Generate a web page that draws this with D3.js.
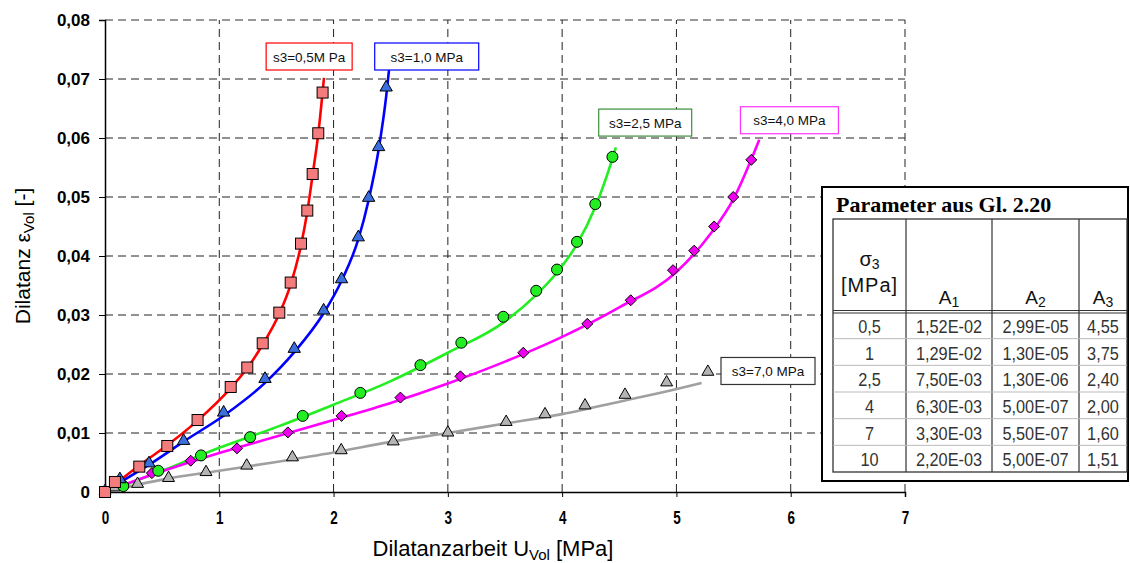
<!DOCTYPE html>
<html>
<head>
<meta charset="utf-8">
<script src="https://cdn.jsdelivr.net/npm/d3@7"></script>
<style>
  html, body { margin: 0; padding: 0; background: #fff; }
  svg { display: block; }
</style>
</head>
<body>
<svg id="chart" width="1130" height="563" font-family="Arial, 'Liberation Sans', sans-serif"></svg>
<script>
// ---------------- DATA ----------------
const xTicks = [0, 1, 2, 3, 4, 5, 6, 7];
const yTicks = [0, 0.01, 0.02, 0.03, 0.04, 0.05, 0.06, 0.07, 0.08];
const yTickLabels = ["0", "0,01", "0,02", "0,03", "0,04", "0,05", "0,06", "0,07", "0,08"];

// measured points [U_vol, eps_vol]
const pts05 = [[0,0],[0.087,0.0017],[0.30,0.0043],[0.545,0.0078],[0.81,0.0122],[1.10,0.0178],[1.245,0.0211],[1.38,0.0252],[1.525,0.0304],[1.625,0.0355],[1.715,0.0421],[1.77,0.0477],[1.817,0.0539],[1.866,0.0608],[1.904,0.0677]];
const pts10 = [[0.13,0.0020],[0.385,0.0047],[0.688,0.0085],[1.038,0.0133],[1.40,0.0190],[1.656,0.0241],[1.913,0.0306],[2.07,0.0359],[2.216,0.0430],[2.307,0.0497],[2.394,0.0583],[2.46,0.0684]];
const pts25 = [[0.16,0.0010],[0.466,0.0036],[0.84,0.0062],[1.27,0.0093],[1.73,0.0129],[2.234,0.0168],[2.76,0.0215],[3.118,0.0253],[3.485,0.0297],[3.773,0.0341],[3.955,0.0377],[4.13,0.0424],[4.29,0.0488],[4.44,0.0568]];
const pts40 = [[0.13,0.0015],[0.41,0.0032],[0.75,0.0053],[1.155,0.0074],[1.60,0.0101],[2.07,0.0129],[2.585,0.0160],[3.11,0.0196],[3.66,0.0236],[4.22,0.0285],[4.60,0.0325],[4.97,0.0376],[5.155,0.0409],[5.33,0.0450],[5.497,0.0500],[5.655,0.0563]];
const pts70 = [[0,0],[0.08,0.0006],[0.285,0.0012],[0.556,0.0022],[0.884,0.0032],[1.24,0.0043],[1.64,0.0057],[2.067,0.0069],[2.522,0.0084],[3.00,0.0099],[3.51,0.0117],[3.85,0.0130],[4.20,0.0145],[4.55,0.0163],[4.914,0.0184],[5.275,0.0202]];

// fitted curves (Gl. 2.20)
const fit05 = [[0,0],[0.30,0.0045],[0.55,0.0080],[0.81,0.0121],[1.10,0.0176],[1.245,0.0210],[1.38,0.0250],[1.525,0.0302],[1.625,0.0352],[1.715,0.0418],[1.77,0.0475],[1.817,0.0538],[1.866,0.0607],[1.916,0.0702]];
const fit10 = [[0.05,0.0007],[0.40,0.0048],[0.70,0.0087],[1.05,0.0131],[1.40,0.0185],[1.656,0.0237],[1.913,0.0303],[2.07,0.0358],[2.216,0.0428],[2.307,0.0495],[2.394,0.0580],[2.46,0.0670],[2.485,0.0715]];
const fit25 = [[0.05,0.0003],[0.5,0.0036],[1.0,0.0075],[1.5,0.0110],[2.0,0.0148],[2.5,0.0188],[3.0,0.0236],[3.485,0.0287],[3.773,0.0334],[3.955,0.0372],[4.13,0.0420],[4.29,0.0483],[4.44,0.0565],[4.47,0.0584]];
const fit40 = [[0.05,0.0004],[0.5,0.0035],[1.0,0.0066],[1.5,0.0094],[2.0,0.0122],[2.5,0.0151],[3.0,0.0184],[3.5,0.0221],[4.0,0.0263],[4.5,0.0313],[5.0,0.0373],[5.3,0.0438],[5.5,0.0497],[5.725,0.0597]];
const fit70 = [[0.05,0.0002],[0.5,0.0021],[1.0,0.0036],[1.5,0.0051],[2.0,0.0067],[2.5,0.0085],[3.0,0.0100],[3.5,0.0116],[4.0,0.0132],[4.55,0.0155],[4.9,0.0170],[5.22,0.0185]];

const seriesNames = ["s3=0,5M Pa", "s3=1,0 MPa", "s3=2,5 MPa", "s3=4,0 MPa", "s3=7,0 MPa"];
// label anchor in data coords (top-left of box)
const labelPos = [[1.41, 0.0761], [2.36, 0.0761], [4.32, 0.0649], [5.56, 0.0653], [5.39, 0.0228]];

const tableTitle = "Parameter aus Gl. 2.20";
const tableSigma = ["0,5", "1", "2,5", "4", "7", "10"];
const tableA1 = ["1,52E-02", "1,29E-02", "7,50E-03", "6,30E-03", "3,30E-03", "2,20E-03"];
const tableA2 = ["2,99E-05", "1,30E-05", "1,30E-06", "5,00E-07", "5,50E-07", "5,00E-07"];
const tableA3 = ["4,55", "3,75", "2,40", "2,00", "1,60", "1,51"];

// ---------------- CHART ----------------
const svg = d3.select("#chart");
const x = d3.scaleLinear().domain([0, 7]).range([105, 905]);
const y = d3.scaleLinear().domain([0, 0.08]).range([492, 20]);

// gridlines
const grid = svg.append("g");
grid.selectAll("line.h").data(yTicks.filter(d => d > 0)).enter().append("line")
  .attr("x1", x(0)).attr("x2", x(7))
  .attr("y1", d => y(d)).attr("y2", d => y(d))
  .attr("stroke", d => d === 0.08 ? "#777" : "#222").attr("stroke-width", d => d === 0.08 ? 1.5 : 1)
  .attr("stroke-dasharray", "8,5");
grid.selectAll("line.v").data(xTicks.filter(d => d > 0)).enter().append("line")
  .attr("x1", d => x(d)).attr("x2", d => x(d))
  .attr("y1", y(0)).attr("y2", y(0.08))
  .attr("stroke", "#222").attr("stroke-width", 1)
  .attr("stroke-dasharray", "8,5");

// axes
const yAxis = d3.axisLeft(y).tickValues(yTicks).tickSize(6).tickFormat((d, i) => yTickLabels[i]);
const gy = svg.append("g").attr("transform", `translate(${x(0)},0)`).call(yAxis);
gy.attr("font-family", null).attr("font-size", null);
gy.select(".domain").attr("stroke", "#000").attr("stroke-width", 1.5);
gy.selectAll(".tick line").attr("stroke", "#000");
gy.selectAll(".tick text").attr("font-size", 17).attr("font-weight", "bold")
  .attr("fill", "#000").attr("x", -15);

const xAxis = d3.axisBottom(x).tickValues(xTicks).tickSize(5).tickFormat(d3.format("d"));
const gx = svg.append("g").attr("transform", `translate(0,${y(0)})`).call(xAxis);
gx.attr("font-family", null).attr("font-size", null);
gx.select(".domain").attr("stroke", "#000").attr("stroke-width", 1.5);
gx.selectAll(".tick line").attr("stroke", "#000");
gx.selectAll(".tick text").attr("font-size", 18).attr("font-weight", "bold")
  .attr("fill", "#000").attr("y", 19).attr("transform", "scale(0.75,1)");

// axis titles
const xt = svg.append("text").attr("x", 493).attr("y", 556).attr("text-anchor", "middle")
  .attr("font-size", 22).attr("fill", "#000");
xt.append("tspan").text("Dilatanzarbeit U");
xt.append("tspan").attr("font-size", 15).attr("dy", 4).text("Vol");
xt.append("tspan").attr("dy", -4).text(" [MPa]");

const yt = svg.append("text").attr("transform", "translate(30,256) rotate(-90)").attr("text-anchor", "middle")
  .attr("font-size", 21).attr("fill", "#000");
yt.append("tspan").text("Dilatanz ε");
yt.append("tspan").attr("font-size", 15).attr("dy", 4).text("Vol");
yt.append("tspan").attr("dy", -4).text(" [-]");

// curves
const line = d3.line().x(d => x(d[0])).y(d => y(d[1])).curve(d3.curveMonotoneX);
const fits = [fit05, fit10, fit25, fit40, fit70];
const lineColors = ["#ff0000", "#0000ff", "#22ee22", "#ff00ff", "#a0a0a0"];
fits.forEach((f, i) => {
  svg.append("path").datum(f).attr("d", line).attr("fill", "none")
    .attr("stroke", lineColors[i]).attr("stroke-width", 2.6);
});

// markers
const mk = svg.append("g").attr("stroke", "#000").attr("stroke-width", 1);
// gray triangles
mk.selectAll("path.g").data(pts70).enter().append("path")
  .attr("d", d3.symbol().type(d3.symbolTriangle).size(62))
  .attr("transform", d => `translate(${x(d[0])},${y(d[1]) - 1})`).attr("fill", "#b4b4b4");
// magenta diamonds
mk.selectAll("path.m").data(pts40).enter().append("path")
  .attr("d", "M0,-5.5L5.5,0L0,5.5L-5.5,0Z")
  .attr("transform", d => `translate(${x(d[0])},${y(d[1])})`).attr("fill", "#ee00ee");
// green circles
mk.selectAll("circle.c").data(pts25).enter().append("circle")
  .attr("cx", d => x(d[0])).attr("cy", d => y(d[1])).attr("r", 5.5).attr("fill", "#22ee22");
// blue triangles
mk.selectAll("path.b").data(pts10).enter().append("path")
  .attr("d", d3.symbol().type(d3.symbolTriangle).size(66))
  .attr("transform", d => `translate(${x(d[0])},${y(d[1]) - 1})`).attr("fill", "#3b6fe0");
// red squares
mk.selectAll("rect.r").data(pts05).enter().append("rect")
  .attr("x", d => x(d[0]) - 5.5).attr("y", d => y(d[1]) - 5.5).attr("width", 11).attr("height", 11)
  .attr("fill", "#f47c7c");

// series labels
const labelBorder = ["#ff0000", "#0000ff", "#3a8f3a", "#ff33ff", "#333333"];
const labelW = [86, 104, 93, 98, 94];
seriesNames.forEach((name, i) => {
  const lx = x(labelPos[i][0]), ly = y(labelPos[i][1]);
  svg.append("rect").attr("x", lx).attr("y", ly).attr("width", labelW[i]).attr("height", 27)
    .attr("fill", "#fff").attr("stroke", labelBorder[i]).attr("stroke-width", 1.2);
  svg.append("text").attr("x", lx + labelW[i] / 2).attr("y", ly + 18.5).attr("text-anchor", "middle")
    .attr("font-size", 13.5).attr("fill", "#111").text(name);
});

// ---------------- TABLE ----------------
const tb = svg.append("g");
tb.append("rect").attr("x", 822).attr("y", 187).attr("width", 306).attr("height", 294)
  .attr("fill", "#fff").attr("stroke", "#000").attr("stroke-width", 2);
tb.append("text").attr("x", 836).attr("y", 212).attr("font-family", "'Liberation Serif', 'Times New Roman', serif")
  .attr("font-weight", "bold").attr("font-size", 22).attr("fill", "#000").text(tableTitle);

const colX = [833, 906, 992, 1079, 1127];
const headTop = 219, headBot = 312, tBot = 472;
const rowH = (tBot - headBot) / tableSigma.length;
// inner grid
tb.append("rect").attr("x", colX[0]).attr("y", headTop).attr("width", colX[4] - colX[0]).attr("height", tBot - headTop)
  .attr("fill", "none").attr("stroke", "#333").attr("stroke-width", 1.3);
colX.slice(1, 4).forEach(cx => {
  tb.append("line").attr("x1", cx).attr("x2", cx).attr("y1", headTop).attr("y2", tBot)
    .attr("stroke", "#333").attr("stroke-width", 1.2);
});
tb.append("line").attr("x1", colX[0]).attr("x2", colX[4]).attr("y1", headBot - 1.5).attr("y2", headBot - 1.5)
  .attr("stroke", "#333").attr("stroke-width", 1);
tb.append("line").attr("x1", colX[0]).attr("x2", colX[4]).attr("y1", headBot + 1).attr("y2", headBot + 1)
  .attr("stroke", "#333").attr("stroke-width", 1);
tableSigma.slice(1).forEach((d, i) => {
  tb.append("line").attr("x1", colX[0]).attr("x2", colX[4])
    .attr("y1", headBot + rowH * (i + 1)).attr("y2", headBot + rowH * (i + 1))
    .attr("stroke", "#bbb").attr("stroke-width", 1);
});
// header
const cMid = i => (colX[i] + colX[i + 1]) / 2;
const hs = tb.append("text").attr("x", cMid(0)).attr("y", 266).attr("text-anchor", "middle")
  .attr("font-size", 20).attr("fill", "#111");
hs.append("tspan").text("σ");
hs.append("tspan").attr("font-size", 14).attr("dy", 3).text("3");
tb.append("text").attr("x", cMid(0)).attr("y", 292).attr("text-anchor", "middle")
  .attr("font-size", 20).attr("letter-spacing", 1).attr("fill", "#111").text("[MPa]");
["A", "A", "A"].forEach((a, k) => {
  const t = tb.append("text").attr("x", cMid(k + 1)).attr("y", 304).attr("text-anchor", "middle")
    .attr("font-size", 19).attr("fill", "#111");
  t.append("tspan").text(a);
  t.append("tspan").attr("font-size", 14).attr("dy", 3).text(String(k + 1));
});
// body
const cols = [tableSigma, tableA1, tableA2, tableA3];
cols.forEach((col, ci) => {
  col.forEach((v, ri) => {
    tb.append("g").attr("transform", `translate(${cMid(ci)},${headBot + rowH * ri + 21})`)
      .append("text").attr("transform", "scale(0.86,1)")
      .attr("text-anchor", "middle").attr("font-size", 19).attr("fill", "#333").text(v);
  });
});
</script>
</body>
</html>
